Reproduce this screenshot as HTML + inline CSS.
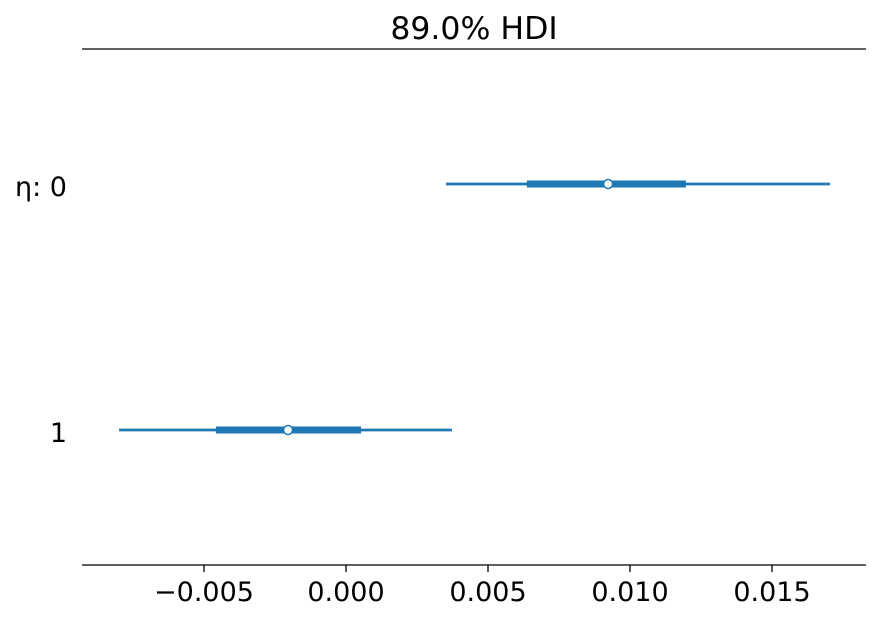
<!DOCTYPE html>
<html><head><meta charset="utf-8"><style>
body{margin:0;background:#fff;}
svg text{font-family:"DejaVu Sans","Liberation Sans",sans-serif;fill:#000;}
</style></head><body>
<svg id="chart" width="880" height="621">
<text x="474" y="39" font-size="31.5" text-anchor="middle">89.0% HDI</text>
<line x1="82" y1="49" x2="866" y2="49" stroke="#000" stroke-width="1.3"/>
<line x1="82" y1="565" x2="866" y2="565" stroke="#000" stroke-width="1.3"/>
<g id="xticks"></g>
<g id="yticks"></g>
<g id="marks"></g>
</svg>
<script>
const labels = ["η: 0", "1"];
const hdiLow = [0.00352, -0.00799];
const hdiHigh = [0.01704, 0.00373];
const iqrLow = [0.00637, -0.00458];
const iqrHigh = [0.01197, 0.00053];
const medians = [0.00923, -0.00204];
const xTicks = [-0.005, 0, 0.005, 0.010, 0.015];
const xTickLabels = ["−0.005", "0.000", "0.005", "0.010", "0.015"];

const NS = "http://www.w3.org/2000/svg";
function x(v){ return 346 + v * 28400; }
function y(i){ return 184 + i * 246; }
function mk(tag, attrs, parent){
  const e = document.createElementNS(NS, tag);
  for (const k in attrs) e.setAttribute(k, attrs[k]);
  parent.appendChild(e);
  return e;
}
const xg = document.getElementById('xticks');
xTicks.forEach((t, i) => {
  const l = mk('line', {x1:x(t), x2:x(t), y1:565, y2:572, stroke:'#000', 'stroke-width':1.3}, xg);
  
  
  const tx = mk('text', {x:x(t), y:601, 'font-size':27, 'text-anchor':'middle'}, xg);
  tx.textContent = xTickLabels[i];
  
  
});
const yg = document.getElementById('yticks');
labels.forEach((lab, i) => {
  const tx = mk('text', {x:67, y:y(i) + 12, 'font-size':27, 'text-anchor':'end'}, yg);
  tx.textContent = lab;
  
  
});
const mg = document.getElementById('marks');
labels.forEach((lab, i) => {
  const c = '#1f77b4';
  const l1 = mk('line', {x1:x(hdiLow[i]), x2:x(hdiHigh[i]), y1:y(i), y2:y(i), stroke:c, 'stroke-width':2.8}, mg);
  
  
  const l2 = mk('line', {x1:x(iqrLow[i]), x2:x(iqrHigh[i]), y1:y(i), y2:y(i), stroke:c, 'stroke-width':7}, mg);
  
  
  const p = mk('circle', {cx:x(medians[i]), cy:y(i), r:4.5, fill:'#fff', stroke:c, 'stroke-width':1.5}, mg);
  
  
});
</script>
</body></html>
